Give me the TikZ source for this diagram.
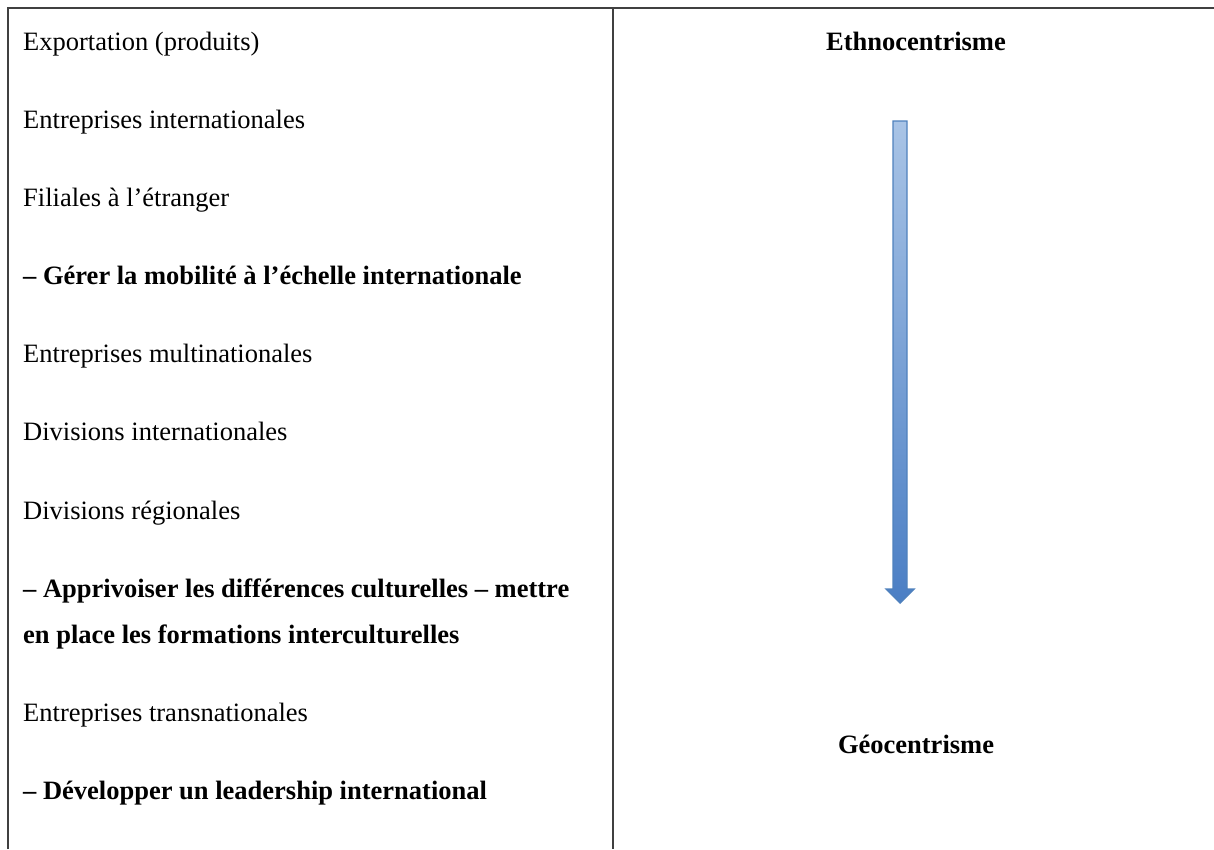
\documentclass[tikz,border=0pt]{standalone}
\usepackage{fontspec}
\setmainfont{Liberation Serif}
\usepackage{tikz}
\usetikzlibrary{positioning}
\definecolor{arrowlight}{HTML}{A9C4E6}
\definecolor{arrowdark}{HTML}{4A7EC4}
\definecolor{arrowedge}{HTML}{4F81BD}
\tikzset{
  rule/.style={line width=1.3pt, black!75},
  item/.style={anchor=base west, inner sep=0pt, align=left},
  pole/.style={anchor=base, inner sep=0pt, font=\bfseries}
}

\begin{document}
\begin{tikzpicture}[x=1pt, y=-1pt]
  
  \fontsize{26.5}{46}\selectfont
  
  \newcommand\R{78};
  \newcommand\T{50};

  \useasboundingbox (0, 0) rectangle (1214, 849);

  %% table rules
  \draw[rule] (8, 849) -- (8, 8) -- (1214, 8);
  \draw[rule] (613, 8) -- (613, 849);

  %% left column
  \node[item] (exp) at (23, \T+0*\R) {Exportation (produits)};
  \node[item] (eint) at (23, \T+1*\R) {Entreprises internationales};
  \node[item] (fil) at (23, \T+2*\R) {Filiales à l’étranger};
  \node[item, font=\bfseries] (mob) at (23, \T+3*\R) {– Gérer la mobilité à l’échelle internationale};
  \node[item] (emul) at (23, \T+4*\R) {Entreprises multinationales};
  \node[item] (dint) at (23, \T+5*\R) {Divisions internationales};
  \node[item] (dreg) at (23, 1+\T+6*\R) {Divisions régionales};
  \node[item, font=\bfseries] (cult) at (23, 46+1+\T+7*\R) {– Apprivoiser les différences culturelles – mettre\\en place les formations interculturelles};
  \node[item] (etra) at (23, 46+1+\T+8*\R) {Entreprises transnationales};
  \node[item, font=\bfseries] (lead) at (23, 46+1+\T+9*\R) {– Développer un leadership international};

  %% right column
  \node[pole] (ethno) at (916, \T) {Ethnocentrisme};
  \node[pole] (geo) at (916, 753) {Géocentrisme};

  %% arrow ethno -> geo
  \draw[arrowedge, line width=1.4pt, top color=arrowlight, bottom color=arrowdark]
    (893, 121) -- (907, 121) -- (907, 589) -- (914, 589) -- (900, 603)
    -- (886, 589) -- (893, 589) -- cycle;

\end{tikzpicture}
\end{document}
